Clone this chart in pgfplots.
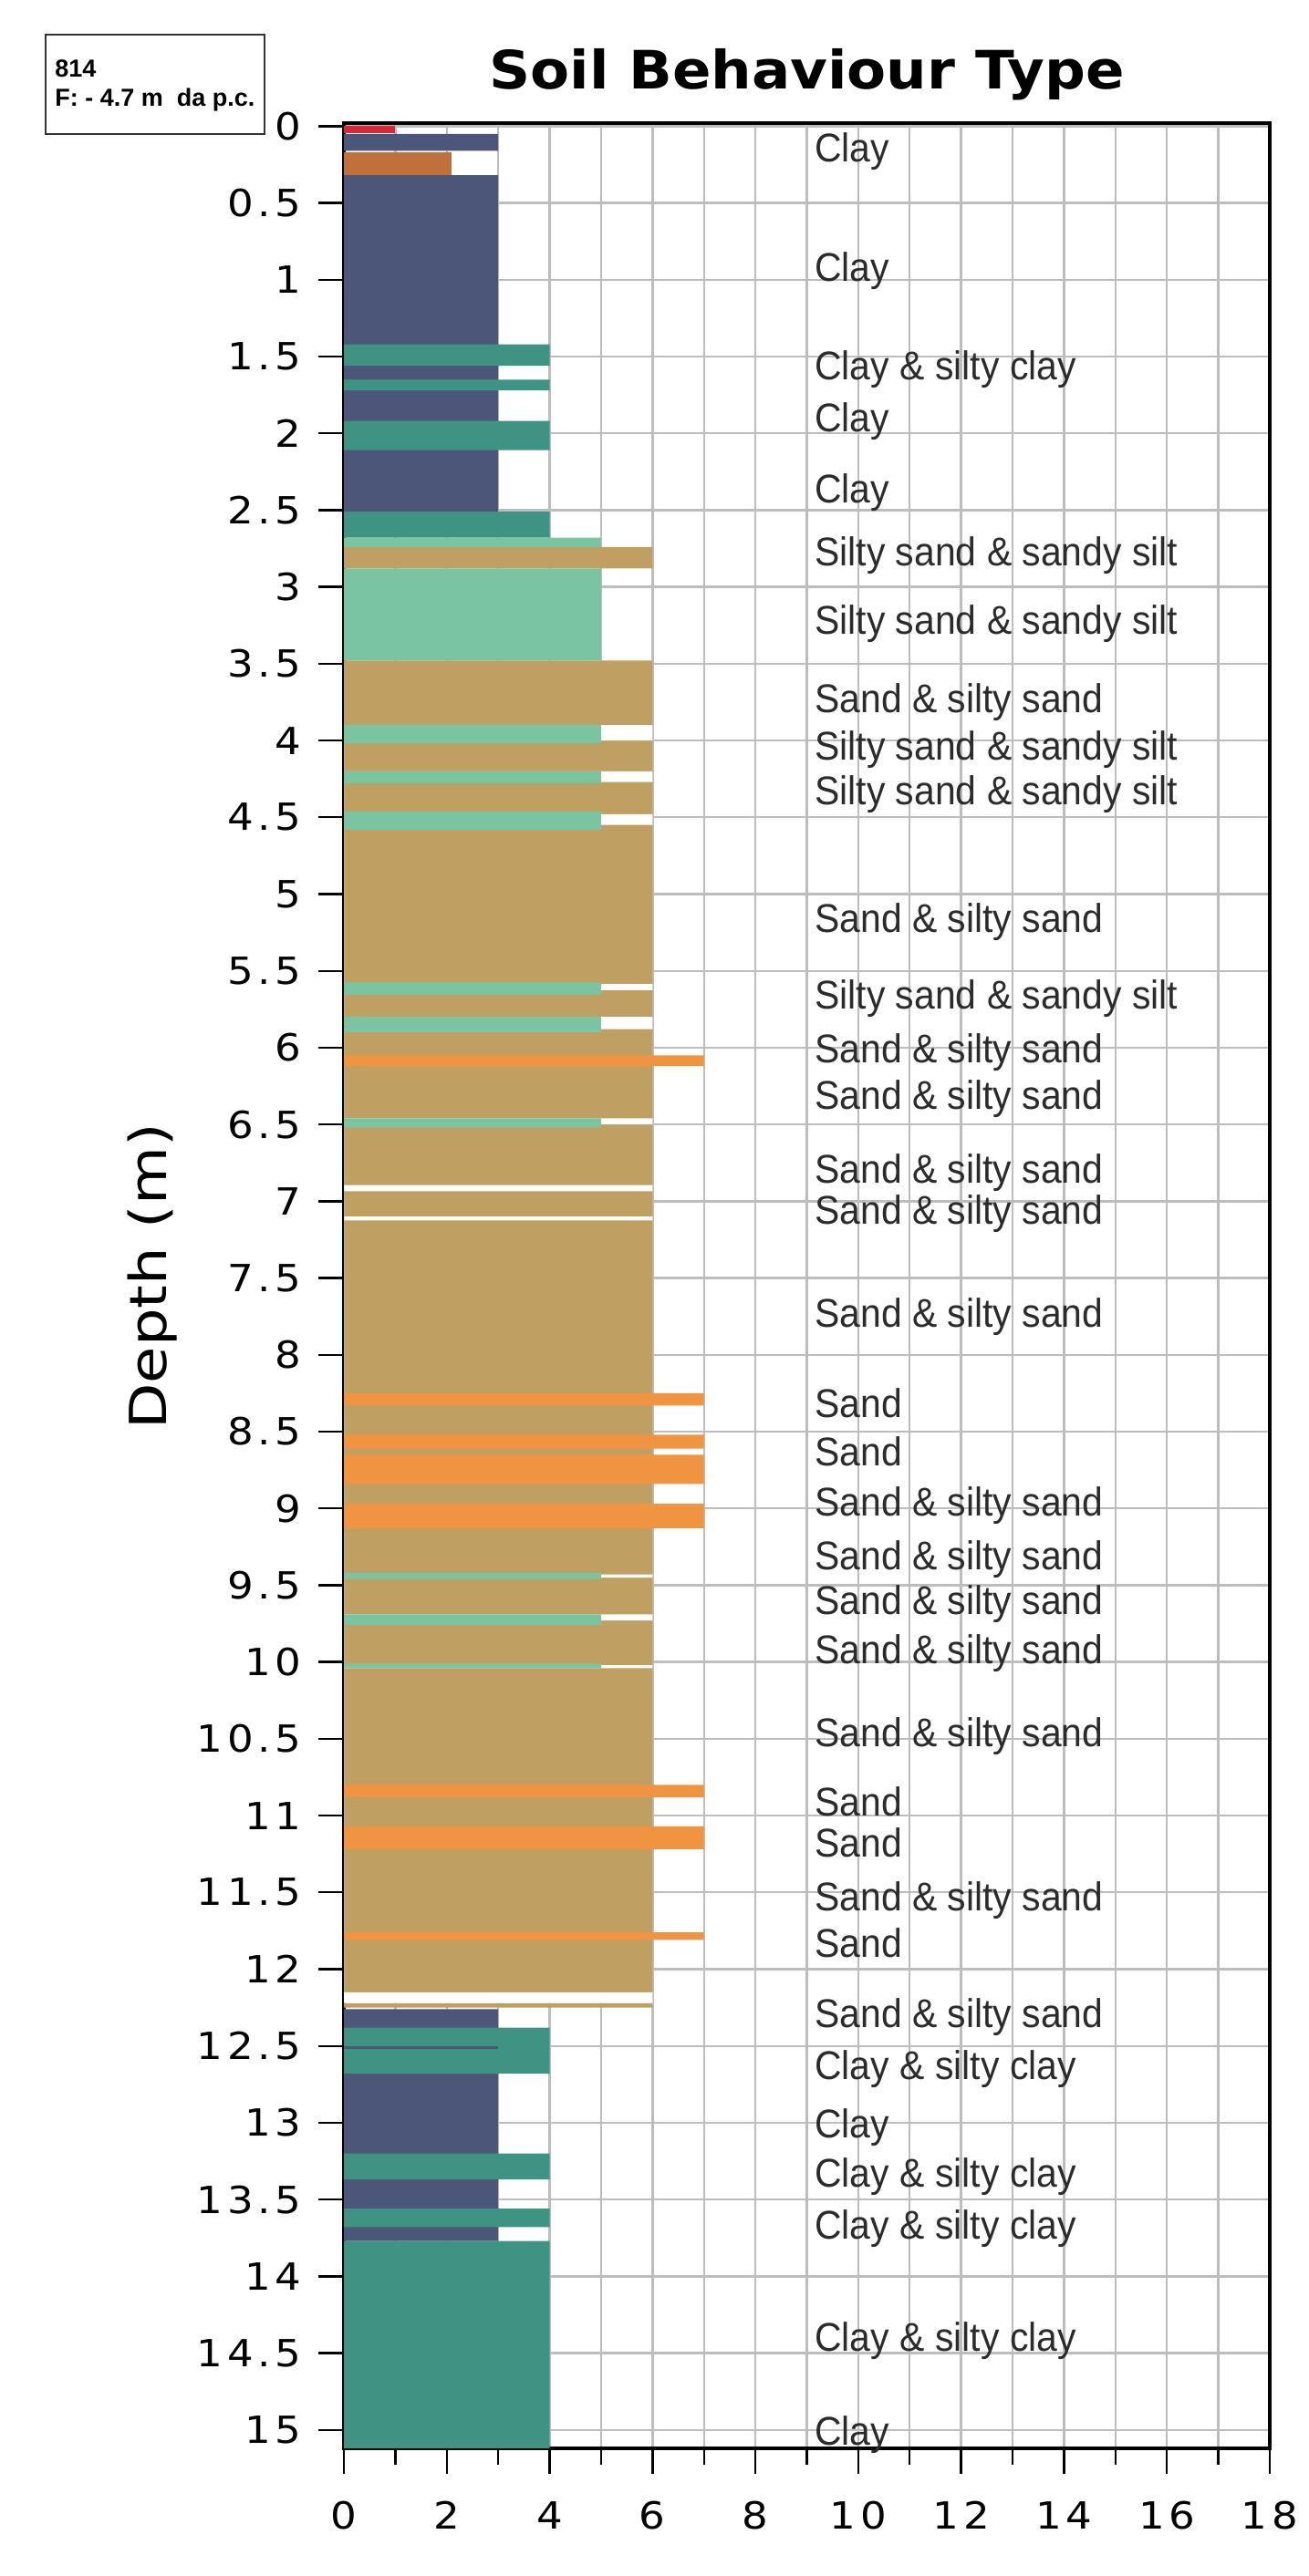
\documentclass[border=0pt]{standalone}
\usepackage{fontspec}
\usepackage{pgfplots}
\usepackage{pgfplotstable}
\pgfplotsset{compat=1.18}
\setmainfont{Liberation Sans}
\newfontfamily\tickfont[FakeStretch=1.1, LetterSpace=12]{DejaVu Sans}
\newfontfamily\titlefont[FakeStretch=1.08]{DejaVu Sans}
\newfontfamily\depthfont[FakeStretch=1.17]{DejaVu Sans}
\newfontfamily\labfont[FakeStretch=0.93]{Liberation Sans}

\definecolor{clay}{HTML}{4B5679}
\definecolor{siltyclay}{HTML}{3F9383}
\definecolor{sandysilt}{HTML}{7BC4A1}
\definecolor{siltysand}{HTML}{C0A062}
\definecolor{sand}{HTML}{F09442}
\definecolor{sensitive}{HTML}{D42A35}
\definecolor{organic}{HTML}{C0703A}
\definecolor{gridgray}{HTML}{BDBDBD}
\definecolor{labgray}{HTML}{2B2B2B}

\pgfplotsset{
  layers/sbt/.define layer set={axis background,axis grid,pre main,main,axis ticks,axis lines,axis tick labels,axis descriptions,axis foreground}{},
  soil/.style={xbar interval, draw=none},
}
\tikzset{
  lab/.style={anchor=base west, font=\labfont\fontsize{22}{26}\selectfont, text=labgray, inner sep=0pt},
}

% layer tables: depth of top of each interval, bar length (0 = gap)
\pgfplotstableread{
d w
0.05 3
0.16 0
0.32 3
2.51 0
12.26 3
13.77 0
}\claytab
\pgfplotstableread{
d w
0.17 2.1
0.32 0
}\organictab
\pgfplotstableread{
d w
0.00 1
0.045 0
}\sensitivetab
\pgfplotstableread{
d w
1.42 4
1.56 0
1.65 4
1.72 0
1.92 4
2.11 0
2.51 4
2.68 0
12.38 4
12.68 0
13.20 4
13.37 0
13.56 4
13.68 0
13.77 4
15.12 0
}\siltyclaytab
\pgfplotstableread{
d w
12.50 3
12.52 0
}\claybtab
\pgfplotstableread{
d w
2.74 6
2.88 0
3.48 6
12.15 0
12.22 6
12.25 0
}\siltysandtab
\pgfplotstableread{
d w
3.90 6
4.00 0
4.20 6
4.27 0
4.48 6
4.55 0
5.585 6
5.625 0
5.80 6
5.88 0
6.46 6
6.50 0
6.895 6
6.935 0
7.10 6
7.125 0
9.43 6
9.45 0
9.69 6
9.73 0
10.02 6
10.04 0
12.15 6
12.22 0
}\gaptab
\pgfplotstableread{
d w
2.68 5
2.74 0
2.88 5
3.48 0
3.90 5
4.02 0
4.20 5
4.28 0
4.46 5
4.58 0
5.575 5
5.655 0
5.80 5
5.90 0
6.46 5
6.52 0
9.42 5
9.46 0
9.69 5
9.76 0
10.01 5
10.04 0
}\sandysilttab
\pgfplotstableread{
d w
6.05 7
6.12 0
8.25 7
8.33 0
8.52 7
8.61 0
8.65 7
8.84 0
8.97 7
9.13 0
10.80 7
10.88 0
11.07 7
11.22 0
11.76 7
11.81 0
}\sandtab

\begin{document}
\begin{tikzpicture}
\begin{axis}[
  name=ax, at={(0,0)}, anchor=south west,
  scale only axis, width=507.5pt, height=1275pt,
  set layers=sbt,
  xmin=0, xmax=18, ymin=-0.02, ymax=15.12,
  y dir=reverse,
  xtick distance=2, minor x tick num=1,
  ytick distance=0.5,
  grid=both,
  major grid style={gridgray, line width=1.2pt},
  minor grid style={gridgray, line width=1.2pt},
  axis line style={black, line width=2.2pt},
  tick align=outside, xtick pos=left, ytick pos=left,
  major tick length=14pt, minor tick length=9pt,
  every tick/.style={black, line width=1.2pt},
  /pgf/number format/assume math mode=true,
  ticklabel style={font=\tickfont\fontsize{20.5}{24}\selectfont, inner sep=0pt},
  yticklabel style={anchor=east, xshift=-9pt},
  xticklabel style={anchor=north, yshift=-15pt},
  clip=false,
]
\addplot[soil, fill=clay] table[x=w, y=d] {\claytab};
\addplot[soil, fill=organic] table[x=w, y=d] {\organictab};
\addplot[soil, fill=sensitive] table[x=w, y=d] {\sensitivetab};
\addplot[soil, fill=siltyclay] table[x=w, y=d] {\siltyclaytab};
\addplot[soil, fill=clay] table[x=w, y=d] {\claybtab};
\addplot[soil, fill=siltysand] table[x=w, y=d] {\siltysandtab};
\addplot[soil, fill=white] table[x=w, y=d] {\gaptab};
\addplot[soil, fill=sandysilt] table[x=w, y=d] {\sandysilttab};
\addplot[soil, fill=sand] table[x=w, y=d] {\sandtab};

\node[lab] at (axis cs:9.15,0.23) {Clay};
\node[lab] at (axis cs:9.15,1.01) {Clay};
\node[lab] at (axis cs:9.15,1.65) {Clay \& silty clay};
\node[lab] at (axis cs:9.15,1.99) {Clay};
\node[lab] at (axis cs:9.15,2.45) {Clay};
\node[lab] at (axis cs:9.15,2.86) {Silty sand \& sandy silt};
\node[lab] at (axis cs:9.15,3.31) {Silty sand \& sandy silt};
\node[lab] at (axis cs:9.15,3.82) {Sand \& silty sand};
\node[lab] at (axis cs:9.15,4.13) {Silty sand \& sandy silt};
\node[lab] at (axis cs:9.15,4.42) {Silty sand \& sandy silt};
\node[lab] at (axis cs:9.15,5.25) {Sand \& silty sand};
\node[lab] at (axis cs:9.15,5.75) {Silty sand \& sandy silt};
\node[lab] at (axis cs:9.15,6.10) {Sand \& silty sand};
\node[lab] at (axis cs:9.15,6.40) {Sand \& silty sand};
\node[lab] at (axis cs:9.15,6.88) {Sand \& silty sand};
\node[lab] at (axis cs:9.15,7.15) {Sand \& silty sand};
\node[lab] at (axis cs:9.15,7.82) {Sand \& silty sand};
\node[lab] at (axis cs:9.15,8.41) {Sand};
\node[lab] at (axis cs:9.15,8.72) {Sand};
\node[lab] at (axis cs:9.15,9.05) {Sand \& silty sand};
\node[lab] at (axis cs:9.15,9.40) {Sand \& silty sand};
\node[lab] at (axis cs:9.15,9.69) {Sand \& silty sand};
\node[lab] at (axis cs:9.15,10.01) {Sand \& silty sand};
\node[lab] at (axis cs:9.15,10.55) {Sand \& silty sand};
\node[lab] at (axis cs:9.15,11.00) {Sand};
\node[lab] at (axis cs:9.15,11.27) {Sand};
\node[lab] at (axis cs:9.15,11.62) {Sand \& silty sand};
\node[lab] at (axis cs:9.15,11.92) {Sand};
\node[lab] at (axis cs:9.15,12.38) {Sand \& silty sand};
\node[lab] at (axis cs:9.15,12.72) {Clay \& silty clay};
\node[lab] at (axis cs:9.15,13.10) {Clay};
\node[lab] at (axis cs:9.15,13.42) {Clay \& silty clay};
\node[lab] at (axis cs:9.15,13.76) {Clay \& silty clay};
\node[lab] at (axis cs:9.15,14.49) {Clay \& silty clay};
\node[lab] at (axis cs:9.15,15.10) {Clay};
\end{axis}
\node[anchor=base, font=\titlefont\bfseries\fontsize{29}{34}\selectfont] at (253.75pt,1293.5pt) {Soil Behaviour Type};
\node[rotate=90, font=\depthfont\fontsize{28}{32}\selectfont] at (-105pt,642.5pt) {Depth (m)};
\draw[line width=1.1pt, black!80] (-163.5pt,1269pt) rectangle (-43.5pt,1323.5pt);
\node[anchor=base west, inner sep=0pt, font=\bfseries\fontsize{13.5}{16}\selectfont] at (-158.5pt,1300pt) {814};
\node[anchor=base west, inner sep=0pt, font=\bfseries\fontsize{13.5}{16}\selectfont] at (-158.5pt,1284pt) {F: - 4.7 m\ \ da p.c.};
\pgfresetboundingbox
\path[use as bounding box] (-188.5pt,-70pt) rectangle (528.5pt,1342.5pt);
\end{tikzpicture}
\end{document}
